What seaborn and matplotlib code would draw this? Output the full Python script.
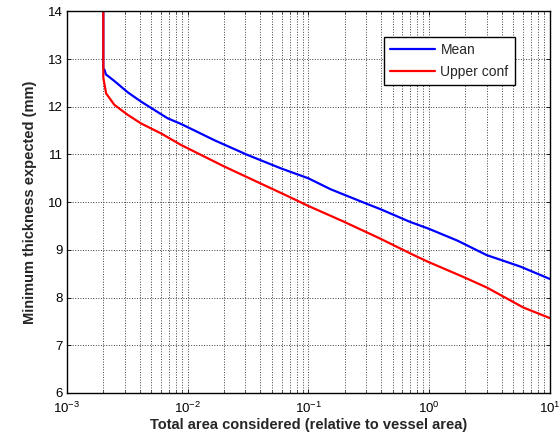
import matplotlib
matplotlib.use("Agg")
import matplotlib.pyplot as plt
import seaborn as sns
import numpy as np
from matplotlib.ticker import LogLocator, NullFormatter

sns.set_theme(style="white")
plt.rcParams['font.family'] = ['Liberation Sans', 'DejaVu Sans']
plt.rcParams['mathtext.default'] = 'regular'

# Data
mean_x = [0.002, 0.002, 0.00205, 0.0021, 0.00247, 0.0032, 0.0041, 0.0068, 0.0088,
          0.0128, 0.0166, 0.0313, 0.059, 0.1, 0.153, 0.288, 0.398, 0.69,
          1.0, 1.73, 3.0, 5.7, 10.0]
mean_y = [14.0, 12.8, 12.77, 12.68, 12.54, 12.3, 12.11, 11.76, 11.64,
          11.44, 11.30, 10.99, 10.71, 10.50, 10.27, 9.99, 9.85, 9.59,
          9.44, 9.19, 8.89, 8.65, 8.39]
upper_x = [0.002, 0.002, 0.00211, 0.00247, 0.00319, 0.00411, 0.00603, 0.0088,
           0.0129, 0.020, 0.0403, 0.050, 0.067, 0.1, 0.197, 0.398, 0.746, 1.0,
           1.93, 3.01, 6.05, 10.0]
upper_y = [14.0, 12.61, 12.28, 12.04, 11.83, 11.65, 11.44, 11.20,
           10.99, 10.75, 10.39, 10.28, 10.13, 9.92, 9.59, 9.23, 8.89, 8.74,
           8.43, 8.21, 7.79, 7.57]
series_names = ["Mean", "Upper conf"]
series_colors = ["#0000ff", "#ff0000"]
x_label = "Total area considered (relative to vessel area)"
y_label = "Minimum thickness expected (mm)"
y_ticks = [6, 7, 8, 9, 10, 11, 12, 13, 14]

fig = plt.figure(figsize=(5.6, 4.38), dpi=100)
ax = fig.add_axes([0.1196, 0.103, 0.8620, 0.871])

for xs, ys, name, col in zip([mean_x, upper_x], [mean_y, upper_y], series_names, series_colors):
    sns.lineplot(x=xs, y=ys, ax=ax, color=col, linewidth=1.6, sort=False,
                 estimator=None, label=name)

ax.set_xscale('log')
ax.set_xlim(1e-3, 10)
ax.set_ylim(6, 14)
ax.set_yticks(y_ticks)
ax.xaxis.set_major_locator(LogLocator(base=10, numticks=10))
ax.xaxis.set_minor_locator(LogLocator(base=10, subs=np.arange(2, 10), numticks=20))
ax.xaxis.set_minor_formatter(NullFormatter())

ax.grid(True, which='major', color='0.25', linestyle=':', linewidth=0.7)
ax.grid(True, which='minor', axis='x', color='0.25', linestyle=':', linewidth=0.7)

for s in ax.spines.values():
    s.set_color('black')
    s.set_linewidth(1.0)
    s.set_visible(True)

ax.tick_params(axis='both', which='major', direction='in', length=3, width=0.6,
               top=True, right=True, bottom=True, left=True, labelsize=9.5,
               colors='black')
ax.tick_params(axis='y', which='major', pad=3)
ax.tick_params(axis='x', which='major', pad=6)
ax.tick_params(axis='x', which='minor', direction='in', length=2, width=0.5,
               top=True, bottom=True)

ax.set_xlabel(x_label, fontsize=10.5, fontweight='bold', labelpad=1)
ax.set_ylabel(y_label, fontsize=10.5, fontweight='bold', labelpad=8)

leg = ax.legend(loc='upper right', bbox_to_anchor=(0.928, 0.933), fontsize=10,
                frameon=True, fancybox=False, edgecolor='black', framealpha=1,
                handlelength=3.2, borderpad=0.45, labelspacing=0.55,
                handletextpad=0.4, borderaxespad=0)
leg.get_frame().set_linewidth(1.0)

fig.savefig("out.png", dpi=100, facecolor='white')
